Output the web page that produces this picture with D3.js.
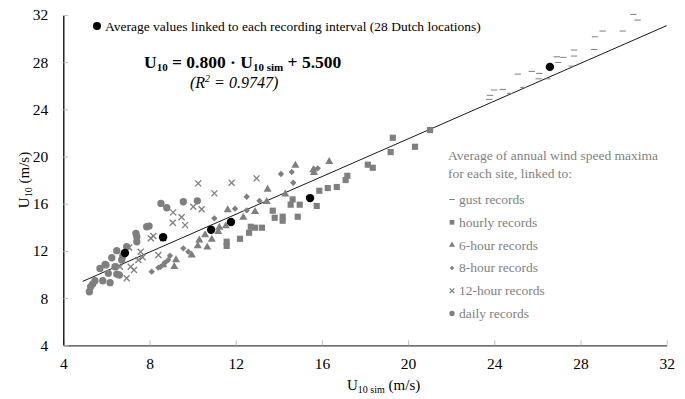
<!DOCTYPE html>
<html>
<head>
<meta charset="utf-8">
<script src="https://cdn.jsdelivr.net/npm/d3@7"></script>
<style>
  html, body { margin: 0; padding: 0; background: #fff; }
  svg { display: block; font-family: "Liberation Serif", "Times New Roman", serif; }
</style>
</head>
<body>
<svg id="chart" width="685" height="399"></svg>
<script>
// ticks
const xTicks = [4, 8, 12, 16, 20, 24, 28, 32];
const yTicks = [4, 8, 12, 16, 20, 24, 28, 32];

// regression U10 = 0.800 * U10sim + 5.500
const slope = 0.8;
const intercept = 5.5;
const fitRange = [4.9, 32];

// [U10 sim, U10]
const gust = [[30.45,32.05],[30.65,31.57],[29.03,30.64],[29.96,30.64],[28.67,30.15],[27.70,29.03],[28.63,29.08],
  [26.90,28.46],[27.20,28.41],[27.70,28.52],[26.97,27.98],[25.09,26.99],[25.74,27.22],[26.09,27.05],[26.06,26.59],
  [26.46,26.59],[24.39,25.69],[23.99,25.64],[23.80,25.19],[23.77,24.85],[27.59,27.67],[25.35,25.86],[24.73,25.36]];
const hourly = [[21.02,22.25],[19.29,21.59],[20.32,20.83],[19.19,20.38],[18.13,19.31],[18.36,19.05],[17.18,18.37],
  [17.10,18.01],[16.69,17.42],[16.27,17.33],[15.88,17.10],[15.76,15.81],[14.64,16.37],[14.55,15.92],[14.97,15.92],
  [13.72,15.41],[13.81,14.81],[14.18,14.90],[14.18,14.56],[14.88,14.90],[13.22,13.97],[12.90,13.97],[12.70,14.05],
  [12.62,13.54],[12.20,13.03],[11.58,12.78],[11.58,12.42]];
const sixHour = [[16.34,19.56],[14.77,19.25],[15.60,18.86],[15.63,18.63],[13.48,17.22],[14.30,16.82],[13.44,16.17],
  [12.90,15.32],[12.35,14.85],[11.63,15.47],[11.24,14.00],[11.54,14.11],[10.89,12.98],[10.68,12.31],[10.24,12.42],
  [10.31,12.92],[10.58,13.35],[9.96,11.65],[11.19,13.63],[9.23,11.23],[9.15,10.66],[8.64,10.81]];
const eightHour = [[15.81,19.00],[15.65,18.92],[14.60,18.69],[14.10,18.52],[14.67,17.78],[12.51,16.59],[13.10,16.25],
  [11.97,15.58],[12.51,15.44],[11.01,14.76],[9.57,12.22],[9.80,11.93],[8.10,10.24],[8.41,10.58],[8.52,10.66],
  [8.72,11.00],[8.87,11.23],[8.95,11.59]];
const twelveHour = [[12.97,18.15],[11.81,17.78],[10.26,17.73],[11.01,16.88],[10.03,15.75],[10.42,15.53],[9.49,14.85],
  [9.65,14.19],[9.10,15.27],[9.08,14.39],[8.18,13.26],[8.06,13.07],[8.64,13.07],[8.41,11.65],[7.68,11.46],
  [7.48,11.23],[7.59,11.93],[7.06,12.29],[7.13,10.66],[7.28,10.38],[6.94,9.68],[6.63,10.66]];
const daily = [[8.53,16.03],[8.80,15.66],[9.57,16.17],[10.22,16.25],[7.87,14.05],[7.98,14.11],[7.37,13.49],
  [7.41,13.20],[7.41,12.78],[6.94,12.36],[6.48,12.02],[6.25,11.42],[6.76,11.57],[5.94,10.86],[5.70,10.51],
  [5.98,10.81],[6.40,10.66],[6.09,10.10],[5.83,9.47],[6.17,9.31],[6.48,10.04],[6.60,9.96],[5.47,9.47],
  [5.36,9.19],[5.27,8.98],[5.21,8.54],[6.71,11.23]];
const averages = [[6.86,11.82],[8.63,13.16],[10.86,13.80],[11.78,14.45],[15.45,16.48],[26.58,27.60]];

const legendLabels = ["gust records", "hourly records", "6-hour records", "8-hour records", "12-hour records", "daily records"];

const grey = "#7f7f7f";
const svg = d3.select("#chart");
const margin = { top: 15, right: 18.3, bottom: 53.7, left: 63.3 };
const width = 685, height = 399;

const x = d3.scaleLinear().domain([4, 32]).range([margin.left, width - margin.right]);
const y = d3.scaleLinear().domain([4, 32]).range([height - margin.bottom, margin.top]);

// custom x-shaped cross
const crossX = {
  draw(ctx, size) {
    const r = Math.sqrt(size) / 2;
    ctx.moveTo(-r, -r); ctx.lineTo(r, r);
    ctx.moveTo(r, -r); ctx.lineTo(-r, r);
  }
};
const dash = {
  draw(ctx, size) {
    const r = Math.sqrt(size) / 2;
    ctx.moveTo(-r, 0); ctx.lineTo(r, 0);
  }
};

// axes
const xAxis = svg.append("g")
  .attr("transform", `translate(0,${y(4)})`)
  .call(d3.axisBottom(x).tickValues(xTicks).tickSizeInner(-5).tickSizeOuter(0).tickPadding(13));
xAxis.select(".domain").attr("stroke", "#404040").attr("stroke-width", 1.3);
xAxis.selectAll(".tick line").attr("stroke", "#bfbfbf");
xAxis.selectAll("text").attr("font-size", 15.5).attr("fill", "#000").attr("font-family", "Liberation Serif");

const yAxis = svg.append("g")
  .attr("transform", `translate(${x(4)},0)`)
  .call(d3.axisLeft(y).tickValues(yTicks).tickSizeInner(-5).tickSizeOuter(0).tickPadding(15));
yAxis.select(".domain").attr("stroke", "#000").attr("stroke-width", 1.3);
yAxis.selectAll(".tick line").attr("stroke", "#bfbfbf");
yAxis.selectAll("text").attr("font-size", 15.5).attr("fill", "#000").attr("font-family", "Liberation Serif");

// regression line
svg.append("line")
  .attr("x1", x(fitRange[0])).attr("y1", y(slope * fitRange[0] + intercept))
  .attr("x2", x(fitRange[1])).attr("y2", y(slope * fitRange[1] + intercept))
  .attr("stroke", "#000").attr("stroke-width", 0.9);

function drawSeries(data, type, size, opts) {
  svg.append("g").selectAll("path")
    .data(data)
    .join("path")
    .attr("d", d3.symbol().type(type).size(size))
    .attr("transform", d => `translate(${x(d[0])},${y(d[1])})` + (opts.rotate ? " rotate(45)" : ""))
    .attr("fill", opts.stroke ? "none" : grey)
    .attr("stroke", opts.stroke ? grey : "none")
    .attr("stroke-width", opts.stroke || 0);
}

drawSeries(daily, d3.symbolCircle, 42, {});
drawSeries(twelveHour, crossX, 36, { stroke: 1.3 });
drawSeries(eightHour, d3.symbolSquare, 20, { rotate: true });
drawSeries(sixHour, d3.symbolTriangle, 28, {});
drawSeries(hourly, d3.symbolSquare, 38, {});
drawSeries(gust, dash, 40, { stroke: 1 });

svg.append("g").selectAll("circle")
  .data(averages)
  .join("circle")
  .attr("cx", d => x(d[0])).attr("cy", d => y(d[1]))
  .attr("r", 4.2).attr("fill", "#000");

// top legend
svg.append("circle").attr("cx", 97).attr("cy", 26).attr("r", 4).attr("fill", "#000");
svg.append("text").attr("x", 105).attr("y", 30.5).attr("font-size", 13.5).attr("fill", "#000")
  .text("Average values linked to each recording interval (28 Dutch locations)");

// equation
const eq = svg.append("text").attr("x", 144).attr("y", 68).attr("font-size", 17.5)
  .attr("font-weight", "bold").attr("fill", "#000");
eq.append("tspan").text("U");
eq.append("tspan").attr("font-size", 11).attr("dy", 3).text("10");
eq.append("tspan").attr("dy", -3).text(" = 0.800 · U");
eq.append("tspan").attr("font-size", 11).attr("dy", 3).text("10 sim");
eq.append("tspan").attr("dy", -3).text(" + 5.500");

const r2 = svg.append("text").attr("x", 190).attr("y", 88).attr("font-size", 16)
  .attr("font-style", "italic").attr("fill", "#000");
r2.append("tspan").text("(R");
r2.append("tspan").attr("font-size", 10).attr("dy", -6).text("2");
r2.append("tspan").attr("dy", 6).text(" = 0.9747)");

// axis titles
const yt = svg.append("text").attr("transform", "translate(29,180) rotate(-90)")
  .attr("text-anchor", "middle").attr("font-size", 15).attr("fill", "#000");
yt.append("tspan").text("U");
yt.append("tspan").attr("font-size", 10).attr("dy", 3).text("10");
yt.append("tspan").attr("dy", -3).text("  (m/s)");

const xt = svg.append("text").attr("x", 347).attr("y", 390).attr("font-size", 15).attr("fill", "#000");
xt.append("tspan").text("U");
xt.append("tspan").attr("font-size", 10).attr("dy", 3).text("10 sim");
xt.append("tspan").attr("dy", -3).text("  (m/s)");

// side legend
const lg = svg.append("g").attr("font-size", 13.5).attr("fill", grey);
lg.append("text").attr("x", 448).attr("y", 160).text("Average of annual wind speed maxima");
lg.append("text").attr("x", 448).attr("y", 177.5).text("for each site, linked to:");

const legendTypes = [
  { type: dash, size: 30, stroke: 1 },
  { type: d3.symbolSquare, size: 22 },
  { type: d3.symbolTriangle, size: 16 },
  { type: d3.symbolSquare, size: 10, rotate: true },
  { type: crossX, size: 22, stroke: 1.2 },
  { type: d3.symbolCircle, size: 22 }
];
legendLabels.forEach((label, i) => {
  const yy = 204 + i * 22.8;
  const t = legendTypes[i];
  lg.append("path")
    .attr("d", d3.symbol().type(t.type).size(t.size))
    .attr("transform", `translate(452,${yy - 4.5})` + (t.rotate ? " rotate(45)" : ""))
    .attr("fill", t.stroke ? "none" : grey)
    .attr("stroke", t.stroke ? grey : "none")
    .attr("stroke-width", t.stroke || 0);
  lg.append("text").attr("x", 459).attr("y", yy).text(label);
});
</script>
</body>
</html>
